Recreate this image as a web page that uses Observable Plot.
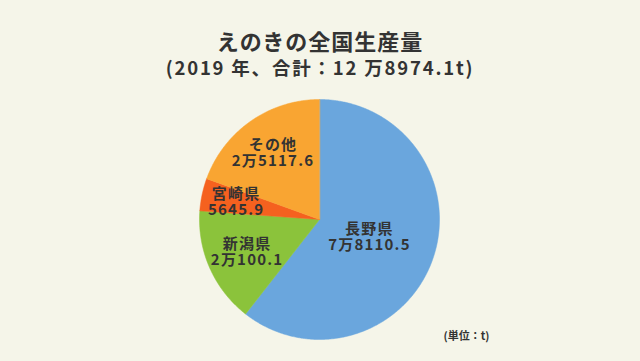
<!DOCTYPE html>
<html lang="ja">
<head>
<meta charset="utf-8">
<script src="https://cdn.jsdelivr.net/npm/d3@7"></script>
<script src="https://cdn.jsdelivr.net/npm/@observablehq/plot@0.6"></script>
<style>
  html, body { margin: 0; padding: 0; background: #f5f5e9; }
  body { width: 640px; height: 361px; overflow: hidden; font-family: "Noto Sans CJK JP", "Noto Sans", sans-serif; color: #333; }
  #title { margin-top: 26px; height: 28px; line-height: 28px; text-align: center; font-size: 22px; font-weight: bold; letter-spacing: 1px; }
  #subtitle { height: 26px; line-height: 26px; text-align: center; font-size: 18.5px; font-weight: bold; letter-spacing: 1.8px; }
  #chart svg { display: block; }
  #chart svg text.lbl { letter-spacing: 1.2px; }
</style>
</head>
<body>
<div id="title"></div>
<div id="subtitle"></div>
<div id="chart"></div>
<script>
// ---- data ----
const titleText = "えのきの全国生産量";
const year = 2019;
const categories = ["長野県", "新潟県", "宮崎県", "その他"];
const values = [78110.5, 20100.1, 5645.9, 25117.6];
const colors = ["#6aa6dd", "#8bc33b", "#f5611f", "#f9a532"];
const unitText = "(単位：t)";

// ---- helpers ----
function fmt(v) {
  const man = Math.floor(v / 10000);
  const rest = (v - man * 10000).toFixed(1);
  return man > 0 ? `${man}万${rest}` : rest;
}
const total = d3.sum(values);
document.getElementById("title").textContent = titleText;
document.getElementById("subtitle").textContent = `(${year} 年、合計：${fmt(total).replace("万", " 万")}t)`;

// ---- layout ----
const W = 640, H = 281, cx = 319, cy = 139, R = 120;
const labelRadius = [0.44, 0.66, 0.71, 0.675];

const arcs = d3.pie().sort(null).value(d => d)(values); // angles clockwise from 12 o'clock
const slices = [];
arcs.forEach((a, i) => {
  const n = Math.max(2, Math.ceil((a.endAngle - a.startAngle) / (Math.PI / 360)));
  slices.push({cat: categories[i], x: 0, y: 0});
  for (let k = 0; k <= n; k++) {
    const t = a.startAngle + (a.endAngle - a.startAngle) * k / n;
    slices.push({cat: categories[i], x: Math.sin(t), y: Math.cos(t)});
  }
});
const labels = arcs.map((a, i) => {
  const m = (a.startAngle + a.endAngle) / 2;
  return {cat: categories[i], text: `${categories[i]}\n${fmt(values[i])}`, x: labelRadius[i] * Math.sin(m), y: labelRadius[i] * Math.cos(m)};
});

const chart = Plot.plot({
  width: W,
  height: H,
  margin: 0,
  x: {domain: [-cx / R, (W - cx) / R], range: [0, W], axis: null},
  y: {domain: [-(H - cy) / R, cy / R], range: [H, 0], axis: null},
  color: {domain: categories, range: colors},
  style: {background: "transparent", fontFamily: "'Noto Sans CJK JP', sans-serif"},
  marks: [
    Plot.line(slices, {x: "x", y: "y", z: "cat", fill: "cat", stroke: "cat", strokeWidth: 0.5, curve: "linear-closed"}),
    Plot.text(labels, {x: "x", y: "y", text: "text", fill: "#333", fontSize: 15, fontWeight: "bold", lineHeight: 1.08, lineAnchor: "middle"}),
    Plot.text([unitText], {frameAnchor: "bottom-right", text: d => d, dx: -151, dy: -22, fontSize: 11, fontWeight: "bold", fill: "#333"})
  ]
});
chart.querySelectorAll("g[aria-label='text']").forEach((g, i) => { if (i === 0) g.querySelectorAll("text").forEach(t => t.classList.add("lbl")); });
document.getElementById("chart").appendChild(chart);
</script>
</body>
</html>
